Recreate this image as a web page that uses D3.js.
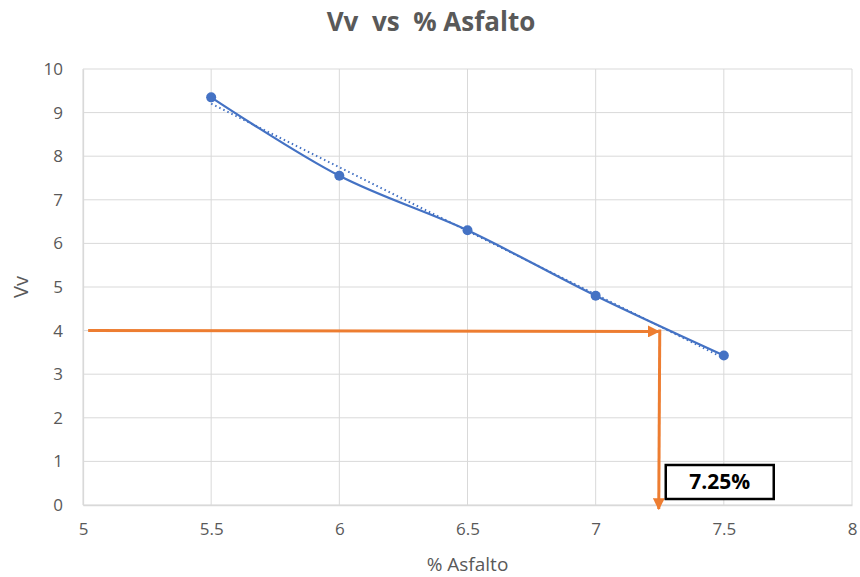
<!DOCTYPE html>
<html>
<head>
<meta charset="utf-8">
<script src="https://cdn.jsdelivr.net/npm/d3@7"></script>
<style>
  body { margin: 0; background: #fff; }
  text { font-family: "Open Sans", "Noto Sans", sans-serif; white-space: pre; }
</style>
</head>
<body>
<div id="chart"></div>
<script>
const asfalto = [5.5, 6, 6.5, 7, 7.5];
const vv = [9.35, 7.55, 6.3, 4.8, 3.43];
const xTicks = [5, 5.5, 6, 6.5, 7, 7.5, 8];
const yTicks = [0, 1, 2, 3, 4, 5, 6, 7, 8, 9, 10];
const targetVv = 4;
const targetAsfalto = 7.25;
const targetLabel = '7.25%';
const arrowStartX = 5.02;

const width = 860;
const height = 577;
const margin = { top: 69, right: 8, bottom: 72, left: 83 };
const innerW = width - margin.left - margin.right;
const innerH = height - margin.top - margin.bottom;

const svg = d3.select('#chart').append('svg')
  .attr('width', width)
  .attr('height', height);

const x = d3.scaleLinear().domain([5, 8]).range([margin.left, margin.left + innerW]);
const y = d3.scaleLinear().domain([0, 10]).range([margin.top + innerH, margin.top]);

const defs = svg.append('defs');
defs.append('marker')
  .attr('id', 'arrow')
  .attr('viewBox', '0 0 10 10')
  .attr('refX', 9)
  .attr('refY', 5)
  .attr('markerWidth', 4)
  .attr('markerHeight', 4)
  .attr('orient', 'auto')
  .append('path')
    .attr('d', 'M0,0 L10,5 L0,10 z')
    .attr('fill', '#ed7d31');

// gridlines
svg.append('g')
  .selectAll('line')
  .data(yTicks)
  .enter()
  .append('line')
    .attr('x1', x(5))
    .attr('x2', x(8))
    .attr('y1', d => y(d))
    .attr('y2', d => y(d))
    .attr('stroke', '#d9d9d9')
    .attr('stroke-width', 1);

svg.append('g')
  .selectAll('line')
  .data(xTicks)
  .enter()
  .append('line')
    .attr('x1', d => x(d))
    .attr('x2', d => x(d))
    .attr('y1', y(0))
    .attr('y2', y(10))
    .attr('stroke', '#d9d9d9')
    .attr('stroke-width', 1);

// axes
const xAxis = svg.append('g')
  .attr('transform', `translate(0,${y(0)})`)
  .call(d3.axisBottom(x).tickValues(xTicks).tickSize(0).tickPadding(18).tickFormat(d3.format('')));
const yAxis = svg.append('g')
  .attr('transform', `translate(${x(5)},0)`)
  .call(d3.axisLeft(y).tickValues(yTicks).tickSize(0).tickPadding(20).tickFormat(d3.format('')));

[xAxis, yAxis].forEach((g) => {
  g.select('.domain').attr('stroke', '#d9d9d9').attr('stroke-width', 1.3);
  g.selectAll('text')
    .attr('fill', '#595959')
    .style('font-family', '"Open Sans", sans-serif')
    .style('font-size', '17px');
});

// trendline (linear least squares)
const xMean = d3.mean(asfalto);
const yMean = d3.mean(vv);
const slope = d3.sum(asfalto, (d, i) => (d - xMean) * (vv[i] - yMean))
  / d3.sum(asfalto, d => (d - xMean) ** 2);
const intercept = yMean - slope * xMean;
const trendX = d3.extent(asfalto);

svg.append('line')
  .attr('x1', x(trendX[0]))
  .attr('y1', y(intercept + slope * trendX[0]))
  .attr('x2', x(trendX[1]))
  .attr('y2', y(intercept + slope * trendX[1]))
  .attr('stroke', '#4472c4')
  .attr('stroke-width', 2)
  .attr('stroke-dasharray', '1.5 3');

// data line
const points = asfalto.map((d, i) => [d, vv[i]]);
const line = d3.line()
  .x(d => x(d[0]))
  .y(d => y(d[1]))
  .curve(d3.curveCatmullRom.alpha(0.5));

svg.append('path')
  .datum(points)
  .attr('d', line)
  .attr('fill', 'none')
  .attr('stroke', '#4472c4')
  .attr('stroke-width', 2.25);

svg.append('g')
  .selectAll('circle')
  .data(points)
  .enter()
  .append('circle')
    .attr('cx', d => x(d[0]))
    .attr('cy', d => y(d[1]))
    .attr('r', 5)
    .attr('fill', '#4472c4');

// orange arrows
svg.append('line')
  .attr('x1', x(arrowStartX))
  .attr('y1', y(targetVv))
  .attr('x2', x(targetAsfalto) - 1)
  .attr('y2', y(targetVv - 0.02))
  .attr('stroke', '#ed7d31')
  .attr('stroke-width', 3)
  .attr('marker-end', 'url(#arrow)');

svg.append('line')
  .attr('x1', x(targetAsfalto))
  .attr('y1', y(targetVv) - 1)
  .attr('x2', x(targetAsfalto) - 1)
  .attr('y2', y(0) + 4)
  .attr('stroke', '#ed7d31')
  .attr('stroke-width', 3)
  .attr('marker-end', 'url(#arrow)');

// label box
const box = svg.append('g')
  .attr('transform', `translate(${x(targetAsfalto) + 6},${y(0) - 40})`);
box.append('rect')
  .attr('width', 108)
  .attr('height', 34)
  .attr('fill', '#fff')
  .attr('stroke', '#000')
  .attr('stroke-width', 2.5);
box.append('text')
  .attr('x', 54)
  .attr('y', 24)
  .attr('text-anchor', 'middle')
  .attr('font-weight', 'bold')
  .style('font-size', '21px')
  .attr('fill', '#000')
  .text(targetLabel);

// titles
svg.append('text')
  .attr('x', 431)
  .attr('y', 31)
  .attr('text-anchor', 'middle')
  .attr('font-weight', 'bold')
  .attr('fill', '#595959')
  .style('font-size', '26px')
  .text('Vv  vs  % Asfalto');

svg.append('text')
  .attr('x', x(6.5))
  .attr('y', 571)
  .attr('text-anchor', 'middle')
  .attr('fill', '#595959')
  .style('font-size', '19px')
  .text('% Asfalto');

svg.append('text')
  .attr('transform', `translate(28,${y(5)}) rotate(-90)`)
  .attr('text-anchor', 'middle')
  .attr('fill', '#595959')
  .style('font-size', '20px')
  .text('Vv');
</script>
</body>
</html>
